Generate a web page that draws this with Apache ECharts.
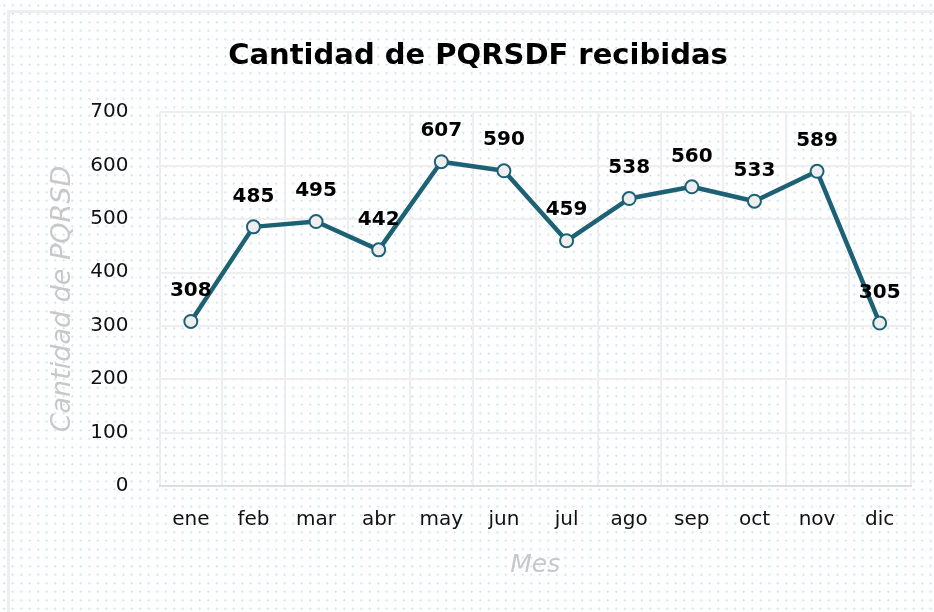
<!DOCTYPE html>
<html>
<head>
<meta charset="utf-8">
<style>
  html, body {
    margin: 0;
    padding: 0;
    width: 934px;
    height: 612px;
    overflow: hidden;
    background-color: #fff;
    background-image: radial-gradient(circle, #c9e4f5 0.9px, transparent 1.2px);
    background-size: 8.5px 8.5px;
    background-position: 0 1px;
  }
  .frame {
    position: absolute;
    left: 7px;
    top: 10px;
    width: 940px;
    height: 620px;
    border-top: 3px solid #eeeeee;
    border-left: 3px solid #eeeeee;
  }
  #chart {
    position: absolute;
    left: 0;
    top: 0;
    width: 934px;
    height: 612px;
  }
</style>
<script src="https://cdn.jsdelivr.net/npm/echarts@6/dist/echarts.min.js"></script>
</head>
<body>
<div class="frame"></div>
<div id="chart"></div>
<script>
// datos
const meses = ['ene', 'feb', 'mar', 'abr', 'may', 'jun', 'jul', 'ago', 'sep', 'oct', 'nov', 'dic']
const recibidas = [308, 485, 495, 442, 607, 590, 459, 538, 560, 533, 589, 305]
const ticksY = [0, 100, 200, 300, 400, 500, 600, 700]

const font = '"DejaVu Sans", sans-serif'
const chart = echarts.init(document.getElementById('chart'), null, { renderer: 'canvas' })

chart.setOption({
  backgroundColor: 'transparent',
  animation: false,
  title: {
    text: 'Cantidad de PQRSDF recibidas',
    left: 473,
    top: 37,
    textAlign: 'center',
    textStyle: {
      fontFamily: font,
      fontWeight: 'bold',
      fontSize: 29,
      color: '#000',
    },
  },
  grid: {
    left: 159.5,
    right: 23,
    top: 112,
    bottom: 126,
  },
  xAxis: {
    type: 'category',
    data: meses,
    boundaryGap: true,
    name: 'Mes',
    nameLocation: 'middle',
    nameGap: 67,
    nameTextStyle: {
      fontFamily: font,
      fontStyle: 'italic',
      fontSize: 25,
      color: '#c8c8c8',
    },
    axisTick: { show: false },
    axisLine: { lineStyle: { color: '#dddddd', width: 2 } },
    axisLabel: {
      margin: 24,
      fontFamily: font,
      fontSize: 20,
      color: '#111',
    },
    splitLine: { show: true, lineStyle: { color: '#eeeeee', width: 2 } },
  },
  yAxis: {
    type: 'value',
    min: ticksY[0],
    max: ticksY[ticksY.length - 1],
    interval: ticksY[1] - ticksY[0],
    name: 'Cantidad de PQRSD',
    nameLocation: 'middle',
    nameGap: 83,
    nameTextStyle: {
      fontFamily: font,
      fontStyle: 'italic',
      fontSize: 27,
      color: '#c8c8c8',
    },
    axisLine: { show: false },
    axisTick: { show: false },
    axisLabel: {
      margin: 31,
      fontFamily: font,
      fontSize: 20,
      color: '#111',
    },
    splitLine: { show: true, lineStyle: { color: '#eeeeee', width: 2 } },
  },
  series: [{
    name: 'PQRSDF',
    type: 'line',
    data: recibidas,
    symbol: 'circle',
    symbolSize: 13,
    lineStyle: { color: '#1d6175', width: 4.5 },
    itemStyle: { color: '#eeeeee', borderColor: '#1d6175', borderWidth: 2 },
    label: {
      show: true,
      position: 'top',
      distance: 13,
      fontFamily: font,
      fontWeight: 'bold',
      fontSize: 20,
      color: '#000',
    },
  }],
})
</script>
</body>
</html>
